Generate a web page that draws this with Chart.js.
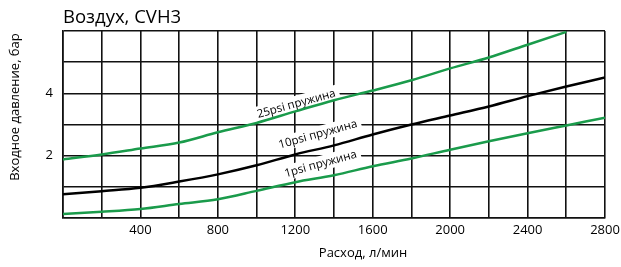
<!DOCTYPE html>
<html>
<head>
<meta charset="utf-8">
<script src="https://cdn.jsdelivr.net/npm/chart.js@4"></script>
<style>
html,body{margin:0;padding:0;background:#fff;}
canvas{display:block;}
</style>
</head>
<body>
<canvas id="c" width="621" height="267"></canvas>
<script>
const flowValues = [0,200,400,600,800,1000,1200,1400,1600,1800,2000,2200,2400,2600,2800];
const spring25 = [1.88,2.04,2.23,2.42,2.75,3.05,3.42,3.78,4.09,4.42,4.80,5.15,5.56,5.97,null];
const spring10 = [0.76,0.86,0.97,1.17,1.40,1.69,2.04,2.33,2.68,3.00,3.29,3.58,3.91,4.22,4.51];
const spring1  = [0.13,0.20,0.29,0.45,0.60,0.87,1.15,1.37,1.66,1.91,2.19,2.46,2.72,2.97,3.22];
const xTickLabels = [400,800,1200,1600,2000,2400,2800];
const yTickLabels = [2,4];
const seriesNames = ['25psi пружина','10psi пружина','1psi пружина'];
const labelAnchors = [[1205,3.66],[1317,2.68],[1331,1.73]];
const chartTitle = 'Воздух, CVH3';
const xTitle = 'Расход, л/мин';
const yTitle = 'Входное давление, бар';

const FONT = '"Open Sans", "DejaVu Sans", sans-serif';
const GREEN = '#1a9b4b';

function pts(arr){ return flowValues.map((x,i)=>({x:x,y:arr[i]})).filter(p=>p.y!==null); }

const textPlugin = {
  id:'texts',
  beforeDatasetsDraw(chart){
    const ctx = chart.ctx, xs = chart.scales.x, ys = chart.scales.y;
    ctx.save();
    ctx.font = '11.5px ' + FONT;
    const ang = -15.5*Math.PI/180;
    seriesNames.forEach((name,i)=>{
      const px = xs.getPixelForValue(labelAnchors[i][0]);
      const py = ys.getPixelForValue(labelAnchors[i][1]);
      const w = ctx.measureText(name).width;
      ctx.save();
      ctx.translate(px,py);
      ctx.rotate(ang);
      ctx.fillStyle = '#fff';
      ctx.fillRect(-w/2-4,-8,w+8,15);
      ctx.fillStyle = '#000';
      ctx.textAlign='center';
      ctx.textBaseline='middle';
      ctx.fillText(name,0,0);
      ctx.restore();
    });
    ctx.restore();
  },
  afterDraw(chart){
    const ctx = chart.ctx;
    ctx.save();
    ctx.fillStyle = '#000';
    ctx.font = '18.5px ' + FONT;
    ctx.textAlign='left';
    ctx.textBaseline='middle';
    ctx.fillText(chartTitle, 63, 18);
    ctx.font = '13px ' + FONT;
    ctx.textAlign='center';
    ctx.fillText(xTitle, 363, 253);
    ctx.translate(15,107);
    ctx.rotate(-Math.PI/2);
    ctx.fillText(yTitle,0,0);
    ctx.restore();
  }
};

new Chart(document.getElementById('c'),{
  type:'line',
  data:{datasets:[
    {label:seriesNames[0],data:pts(spring25),borderColor:GREEN,borderWidth:2.5,pointRadius:0,cubicInterpolationMode:'monotone'},
    {label:seriesNames[1],data:pts(spring10),borderColor:'#000',borderWidth:2.5,pointRadius:0,cubicInterpolationMode:'monotone'},
    {label:seriesNames[2],data:pts(spring1),borderColor:GREEN,borderWidth:2.5,pointRadius:0,cubicInterpolationMode:'monotone'}
  ]},
  options:{
    responsive:false,
    animation:false,
    layout:{padding:{top:31,right:16,bottom:0,left:0}},
    plugins:{legend:{display:false},tooltip:{enabled:false},title:{display:false}},
    scales:{
      x:{type:'linear',min:0,max:2800,
        afterFit(s){s.height=49;s.paddingLeft=0;s.paddingRight=0;},
        grid:{color:'#111',lineWidth:1.6,drawTicks:false},
        border:{color:'#111',width:1.6},
        ticks:{stepSize:200,padding:4,maxRotation:0,autoSkip:false,color:'#000',font:{family:FONT,size:13},
          callback:v=>xTickLabels.includes(v)?String(v):''}
      },
      y:{type:'linear',min:0,max:6,
        afterFit(s){s.width=63;s.paddingTop=0;s.paddingBottom=0;},
        grid:{color:'#111',lineWidth:1.6,drawTicks:false},
        border:{color:'#111',width:1.6},
        ticks:{stepSize:1,padding:10,color:'#000',font:{family:FONT,size:13},
          callback:v=>yTickLabels.includes(v)?String(v):''}
      }
    }
  },
  plugins:[textPlugin]
});
</script>
</body>
</html>
